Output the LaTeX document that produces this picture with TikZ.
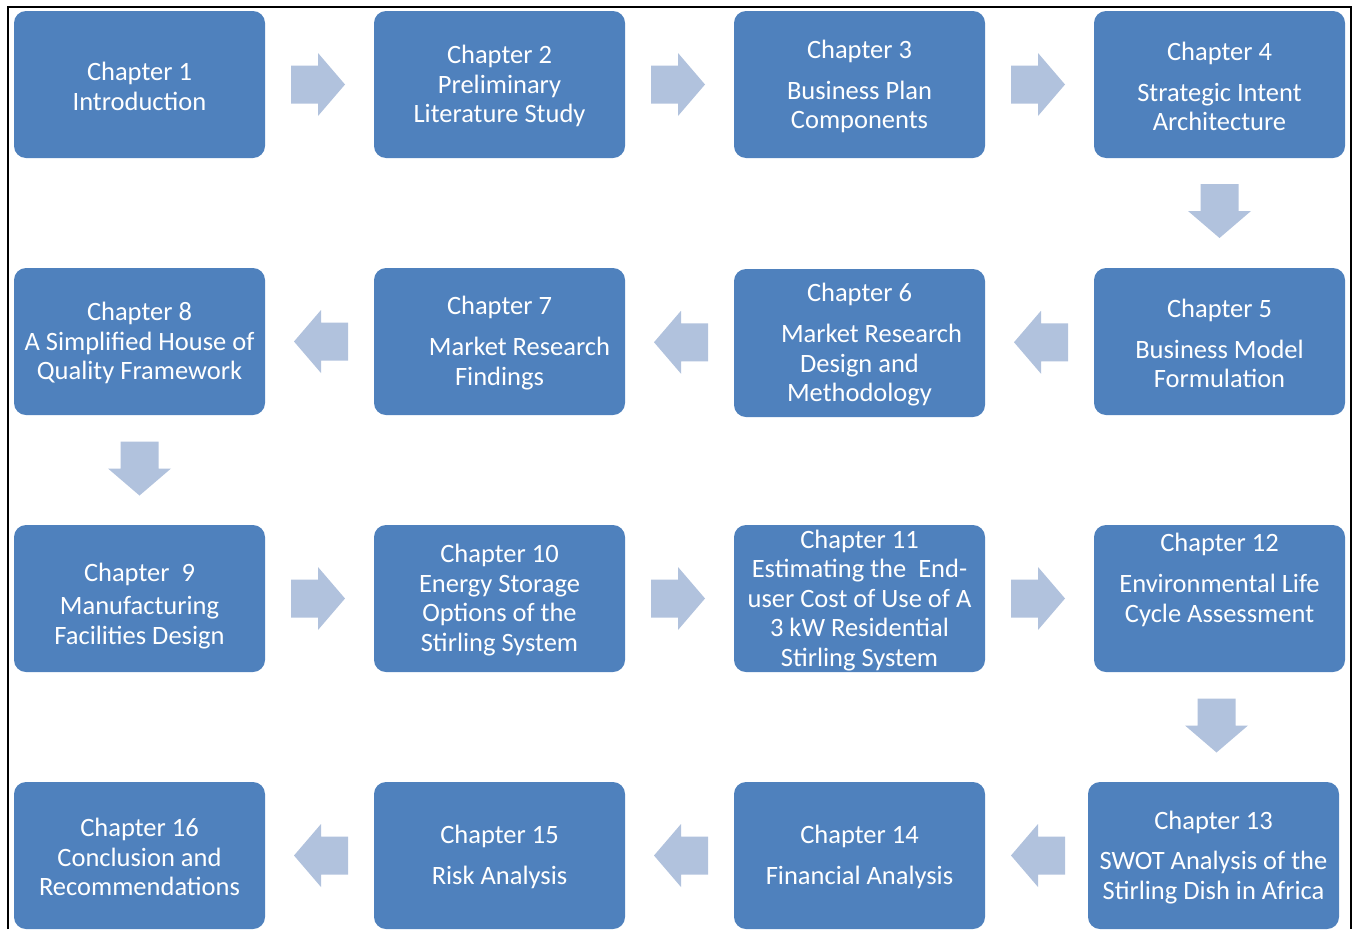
\documentclass[tikz,border=0pt]{standalone}
\usepackage{fontspec}
\setmainfont{Carlito}
\usetikzlibrary{calc}
\definecolor{boxblue}{RGB}{79,129,189}
\definecolor{arrowc}{RGB}{177,194,221}
\tikzset{
  box/.style={fill=boxblue, draw=none, rounded corners=12pt, minimum width=251pt, minimum height=147pt, inner sep=0pt},
  txt/.style={text=white, align=center, inner sep=0pt, yshift=-1.8pt, font=\fontsize{26.5}{29.5}\selectfont},
  pics/barrow/.style={code={\fill[arrowc] (-28.5,-19) -- (-1.5,-19) -- (-1.5,-31.5) -- (25.5,0) -- (-1.5,31.5) -- (-1.5,19) -- (-28.5,19) -- cycle;}}
}
\begin{document}
\begin{tikzpicture}[x=1pt,y=-1pt]
\useasboundingbox (0,0) rectangle (1356,929);
% frame
\draw[line width=1.6pt] (8,929) -- (8,7) -- (1351,7) -- (1351,929);
% boxes
\node[box] (c1) at (139.5,84.5) {};
\node[box] (c2) at (499.5,84.5) {};
\node[box] (c3) at (859.5,84.5) {};
\node[box] (c4) at (1219.5,84.5) {};
\node[box] (c8) at (139.5,341.5) {};
\node[box] (c7) at (499.5,341.5) {};
\node[box, minimum height=148pt] (c6) at (859.5,343) {};
\node[box] (c5) at (1219.5,341.5) {};
\node[box] (c9) at (139.5,598.5) {};
\node[box] (c10) at (499.5,598.5) {};
\node[box] (c11) at (859.5,598.5) {};
\node[box] (c12) at (1219.5,598.5) {};
\node[box] (c16) at (139.5,855.5) {};
\node[box] (c15) at (499.5,855.5) {};
\node[box] (c14) at (859.5,855.5) {};
\node[box] (c13) at (1213.5,855.5) {};
% texts
\node[txt] (t1) at (c1) {Chapter 1\\Introduction};
\node[txt] (t2) at (c2) {Chapter 2\\Preliminary\\Literature Study};
\node[txt] (t3) at (c3) {Chapter 3\\[11.5pt]Business Plan\\Components};
\node[txt] (t4) at (c4) {Chapter 4\\[11.5pt]Strategic Intent\\Architecture};
\node[txt] (t8) at (c8) {Chapter 8\\A Simplified House of\\Quality Framework};
\node[txt] (t7) at (c7) {Chapter 7\\[11.5pt]\hspace*{40pt}Market Research\\Findings};
\node[txt] (t6) at (c6) {Chapter 6\\[11.5pt]\hspace*{24pt}Market Research\\Design and\\Methodology};
\node[txt] (t5) at (c5) {Chapter 5\\[11.5pt]Business Model\\Formulation};
\node[txt] (t9) at ([yshift=-6pt]c9.center) {Chapter\ \ 9\\[3.5pt]Manufacturing\\Facilities Design};
\node[txt] (t10) at (c10) {Chapter 10\\Energy Storage\\Options of the\\Stirling System};
\node[txt] (t11) at (c11) {Chapter 11\\Estimating the\ \ End-\\user Cost of Use of A\\3 kW Residential\\Stirling System};
\node[txt] (t12) at ([yshift=20.5pt]c12.center) {Chapter 12\\[11.5pt]Environmental Life\\Cycle Assessment};
\node[txt] (t13) at (c13) {Chapter 13\\[11pt]SWOT Analysis of the\\Stirling Dish in Africa};
\node[txt] (t14) at (c14) {Chapter 14\\[11.5pt]Financial Analysis};
\node[txt] (t15) at (c15) {Chapter 15\\[11.5pt]Risk Analysis};
\node[txt] (t16) at (c16) {Chapter 16\\Conclusion and\\Recommendations};
% arrow positions
\coordinate (a12) at ($(c1.east)!.5!(c2.west)$);
\coordinate (a23) at ($(c2.east)!.5!(c3.west)$);
\coordinate (a34) at ($(c3.east)!.5!(c4.west)$);
\coordinate (a45) at ($(c4.south)!.5!(c5.north)$);
\coordinate (a56) at ($(c5.west)!.5!(c6.east)$);
\coordinate (a67) at ($(c6.west)!.5!(c7.east)$);
\coordinate (a78) at ($(c7.west)!.5!(c8.east)$);
\coordinate (a89) at ($(c8.south)!.5!(c9.north)$);
\coordinate (a910) at ($(c9.east)!.5!(c10.west)$);
\coordinate (a1011) at ($(c10.east)!.5!(c11.west)$);
\coordinate (a1112) at ($(c11.east)!.5!(c12.west)$);
\coordinate (a1213) at ($(c12.south)!.5!(c13.north)$);
\coordinate (a1314) at ($(c13.west)!.5!(c14.east)$);
\coordinate (a1415) at ($(c14.west)!.5!(c15.east)$);
\coordinate (a1516) at ($(c15.west)!.5!(c16.east)$);
% block arrows
\pic at (a12) {barrow};
\pic at (a23) {barrow};
\pic at (a34) {barrow};
\pic[rotate=-90] at ([yshift=0.5pt]a45) {barrow};
\pic[rotate=180] at (a56) {barrow};
\pic[rotate=180] at (a67) {barrow};
\pic[rotate=180] at (a78) {barrow};
\pic[rotate=-90] at (a89) {barrow};
\pic at (a910) {barrow};
\pic at (a1011) {barrow};
\pic at (a1112) {barrow};
\pic[rotate=-90] at (a1213) {barrow};
\pic[rotate=180] at (a1314) {barrow};
\pic[rotate=180] at (a1415) {barrow};
\pic[rotate=180] at (a1516) {barrow};
\end{tikzpicture}
\end{document}
